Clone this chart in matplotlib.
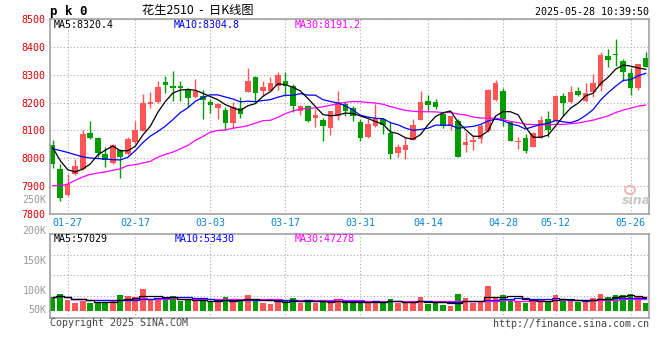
import matplotlib
matplotlib.use("Agg")
import matplotlib.pyplot as plt
import numpy as np
import pandas as pd
from matplotlib.patches import Ellipse

# ---------------- data ----------------
opens = [8046, 7960, 7867, 7942, 7963, 8092, 8073, 8014, 7984, 8028,
         8016, 8058, 8097, 8195, 8201, 8275, 8261, 8261, 8245, 8219,
         8225, 8201, 8179, 8175, 8126, 8181, 8237, 8293, 8243, 8243,
         8261, 8278, 8261, 8171, 8189, 8145, 8139, 8108, 8153, 8195,
         8181, 8132, 8076, 8117, 8141, 8091, 8019, 8028, 8064, 8139,
         8207, 8201, 8159, 8117, 8133, 8046, 8058, 8070, 8097, 8209,
         8243, 8129, 8058, 8073, 8040, 8073, 8141, 8135, 8225, 8201,
         8243, 8205, 8239, 8261, 8368, 8374, 8350, 8305, 8252, 8359]
highs = [8064, 7980, 7942, 7998, 8100, 8135, 8075, 8040, 8050, 8034,
         8075, 8135, 8231, 8239, 8276, 8294, 8314, 8276, 8252, 8284,
         8245, 8213, 8199, 8183, 8201, 8219, 8324, 8295, 8278, 8290,
         8308, 8308, 8267, 8190, 8193, 8177, 8145, 8171, 8240, 8201,
         8189, 8141, 8141, 8195, 8145, 8129, 8052, 8076, 8141, 8243,
         8228, 8213, 8165, 8153, 8141, 8094, 8085, 8123, 8248, 8281,
         8252, 8135, 8078, 8088, 8094, 8153, 8169, 8226, 8233, 8261,
         8255, 8272, 8302, 8383, 8392, 8427, 8356, 8324, 8340, 8383]
lows = [7966, 7847, 7865, 7939, 7957, 8070, 8004, 7968, 7980, 7930,
        8010, 8052, 8097, 8181, 8199, 8233, 8205, 8207, 8183, 8216,
        8141, 8162, 8141, 8102, 8109, 8145, 8237, 8201, 8225, 8240,
        8245, 8225, 8165, 8157, 8129, 8112, 8061, 8085, 8138, 8153,
        8135, 8061, 8073, 8112, 8088, 7998, 8004, 7998, 8064, 8139,
        8171, 8177, 8109, 8100, 8004, 8022, 8028, 8054, 8095, 8207,
        8117, 8061, 8034, 8019, 8040, 8073, 8076, 8129, 8150, 8197,
        8225, 8201, 8219, 8243, 8326, 8332, 8278, 8227, 8245, 8326]
closes = [7980, 7858, 7909, 7971, 8088, 8072, 8019, 7995, 8046, 8004,
          8070, 8100, 8197, 8203, 8255, 8263, 8252, 8251, 8215, 8240,
          8209, 8193, 8195, 8126, 8185, 8159, 8278, 8233, 8257, 8269,
          8300, 8261, 8189, 8189, 8133, 8157, 8117, 8168, 8201, 8168,
          8150, 8073, 8123, 8145, 8120, 8014, 8040, 8048, 8120, 8203,
          8193, 8185, 8117, 8150, 8004, 8060, 8064, 8117, 8246, 8270,
          8141, 8061, 8061, 8026, 8090, 8138, 8102, 8225, 8197, 8239,
          8227, 8233, 8272, 8371, 8352, 8371, 8308, 8252, 8338, 8328]
volumes = [55300, 69200, 44300, 33200, 41500, 33200, 37400, 37400, 41500, 65000,
           60900, 55300, 89900, 44300, 51200, 44300, 60900, 40100, 44300, 40100,
           44300, 37400, 37400, 55300, 37400, 47000, 65000, 48400, 33200, 27700,
           37400, 41500, 52600, 33200, 41500, 33200, 41500, 41500, 44300, 30400,
           30400, 44300, 40100, 40100, 30400, 48400, 33200, 33200, 40100, 56700,
           27700, 30400, 23500, 19400, 69200, 52600, 30400, 40100, 102400, 55300,
           65000, 44300, 37400, 33200, 41500, 44300, 40100, 65000, 47000, 40100,
           37400, 37400, 52600, 69200, 55300, 63600, 63600, 69200, 55300, 33200]
ma5_head = [8038, 7992, 7959, 7951]
ma10_head = [8034, 8028, 8021, 8013, 8005, 8001, 7999, 7997, 7995]
ma30_head = [7902, 7902, 7907, 7921, 7933, 7942, 7947, 7951, 7957, 7962,
             7974, 7977, 7983, 7989, 8004, 8014, 8022, 8034, 8046, 8064,
             8078, 8094, 8100, 8102, 8108, 8112, 8117, 8126, 8135]
date_labels = ["01-27", "02-17", "03-03", "03-17", "03-31", "04-14", "04-28", "05-12", "05-26"]
date_index = [2, 11, 21, 31, 41, 50, 60, 67, 77]
price_ticks = [7800, 7900, 8000, 8100, 8200, 8300, 8400, 8500]
vol_labels = ["250K", "200K", "150K", "100K", "50K"]
title_code = "p k 0"
title_name = "花生2510  -  日K线图"
timestamp = "2025-05-28 10:39:50"
price_ma_text = ["MA5:8320.4", "MA10:8304.8", "MA30:8191.2"]
vol_ma_text = ["MA5:57029", "MA10:53430", "MA30:47278"]

# ---------------- derived ----------------
n = len(closes)
x = np.arange(n)
cs = pd.Series(closes, dtype=float)
ma5 = cs.rolling(5).mean().values
ma10 = cs.rolling(10).mean().values
ma30 = cs.rolling(30).mean().values
ma5[:len(ma5_head)] = ma5_head
ma10[:len(ma10_head)] = ma10_head
ma30[:len(ma30_head)] = ma30_head
vs = pd.Series(volumes, dtype=float)
vma5 = vs.rolling(5, min_periods=1).mean().values
vma10 = vs.rolling(10, min_periods=1).mean().values
vma30 = vs.rolling(30, min_periods=1).mean().values

RED = "#ff5555"
GREEN = "#009c00"
GRID = "#aaaaaa"
BORDER = "#9a9a9a"
MONO = "DejaVu Sans Mono"
W, H = 660, 360

def fx(px):
    return px / W

def fy(py):
    return 1 - py / H

fig = plt.figure(figsize=(6.6, 3.6), dpi=100)
fig.patch.set_facecolor("white")

L, R = 50, 649.3
axp = fig.add_axes([fx(L), fy(214), fx(R - L), (214 - 19) / H])
axv = fig.add_axes([fx(L), fy(318.3), fx(R - L), (318.3 - 234) / H])

xl = (-0.36, 79.48)
bw = 0.74
up = [c >= o for o, c in zip(opens, closes)]
colors = [RED if u else GREEN for u in up]

# price panel
bottoms = [min(o, c) for o, c in zip(opens, closes)]
heights = [max(abs(c - o), 3) for o, c in zip(opens, closes)]
axp.vlines(x, lows, highs, colors=colors, linewidth=1.0, zorder=2)
axp.bar(x, heights, bottom=bottoms, width=bw, color=colors, linewidth=0, zorder=2)
axp.plot(x, ma30, color="#ff00ff", lw=0.9, zorder=3)
axp.plot(x, ma10, color="#0000ff", lw=0.9, zorder=3)
axp.plot(x, ma5, color="black", lw=0.9, zorder=3)
axp.set_xlim(*xl)
axp.set_ylim(7800, 8500)
axp.set_yticks(price_ticks)
axp.set_yticklabels([str(t) for t in price_ticks], color="#dd0000", fontfamily=MONO, fontsize=7.2)
axp.set_xticks(date_index)
axp.set_xticklabels(date_labels, color="#0a84d6", fontfamily=MONO, fontsize=7.2)
axp.tick_params(axis="both", length=0)
axp.tick_params(axis="y", pad=3.5)
axp.tick_params(axis="x", pad=3)
axp.grid(True, linestyle=(0, (1, 2)), color=GRID, linewidth=0.8, zorder=0)
axp.set_axisbelow(True)

# volume panel
axv.bar(x, volumes, width=bw, color=colors, linewidth=0, zorder=2)
axv.plot(x, vma30, color="#ff00ff", lw=0.9, drawstyle="steps-mid", zorder=3)
axv.plot(x, vma10, color="#0000ff", lw=0.9, drawstyle="steps-mid", zorder=3)
axv.plot(x, vma5, color="black", lw=0.9, drawstyle="steps-mid", zorder=3)
axv.set_xlim(*xl)
v0, v1 = -31500, 318300
axv.set_ylim(v0, v1)
axv.set_yticks([v0 + f * (v1 - v0) for f in (0.265, 0.508, 0.75)])
axv.set_yticklabels([])
axv.set_xticks(date_index)
axv.set_xticklabels([])
axv.tick_params(axis="both", length=0)
axv.grid(True, linestyle=(0, (1, 2)), color=GRID, linewidth=0.8, zorder=0)
axv.set_axisbelow(True)

for ax in (axp, axv):
    for s in ax.spines.values():
        s.set_color(BORDER)
        s.set_linewidth(1.1)

# texts
fig.text(fx(50), fy(11), title_code, fontfamily=MONO, fontweight="bold", fontsize=9,
         ha="left", va="center", color="black")
fig.text(fx(142), fy(10.5), title_name, fontfamily=["Noto Sans CJK SC", "DejaVu Sans"], fontsize=8.8,
         ha="left", va="center", color="black")
fig.text(fx(649), fy(12), timestamp, fontfamily=MONO, fontsize=7.2, ha="right", va="center", color="black")

ma_colors = ["black", "#0000ff", "#ff00ff"]
for t, px, c in zip(price_ma_text, [54, 174, 295], ma_colors):
    fig.text(fx(px), fy(24.5), t, fontfamily=MONO, fontsize=7.2, ha="left", va="center", color=c)
for t, px, c in zip(vol_ma_text, [54, 175, 295], ma_colors):
    fig.text(fx(px), fy(238.5), t, fontfamily=MONO, fontsize=7.2, ha="left", va="center", color=c)

for t, py in zip(vol_labels, [200, 231, 261, 291, 310]):
    fig.text(fx(46.5), fy(py), t, fontfamily=MONO, fontsize=7.2, ha="right", va="center", color="#999999")

fig.text(fx(50), fy(323.5), "Copyright 2025 SINA.COM", fontfamily=MONO, fontsize=7.2,
         ha="left", va="center", color="#444444")
fig.text(fx(649), fy(324), "http://finance.sina.com.cn", fontfamily=MONO, fontsize=7.2,
         ha="right", va="center", color="#444444")

# sina watermark
fig.patches.append(Ellipse((fx(630), fy(190)), 10 / W, 8 / H, transform=fig.transFigure,
                           facecolor="none", edgecolor="#f2b8b8", linewidth=1.5, zorder=5))
fig.text(fx(636), fy(200), "sina", fontfamily="DejaVu Sans", fontstyle="italic", fontweight="bold",
         fontsize=9, ha="center", va="center", color="#c8c8c8", zorder=5)

fig.savefig("out.png", dpi=100, facecolor="white")
